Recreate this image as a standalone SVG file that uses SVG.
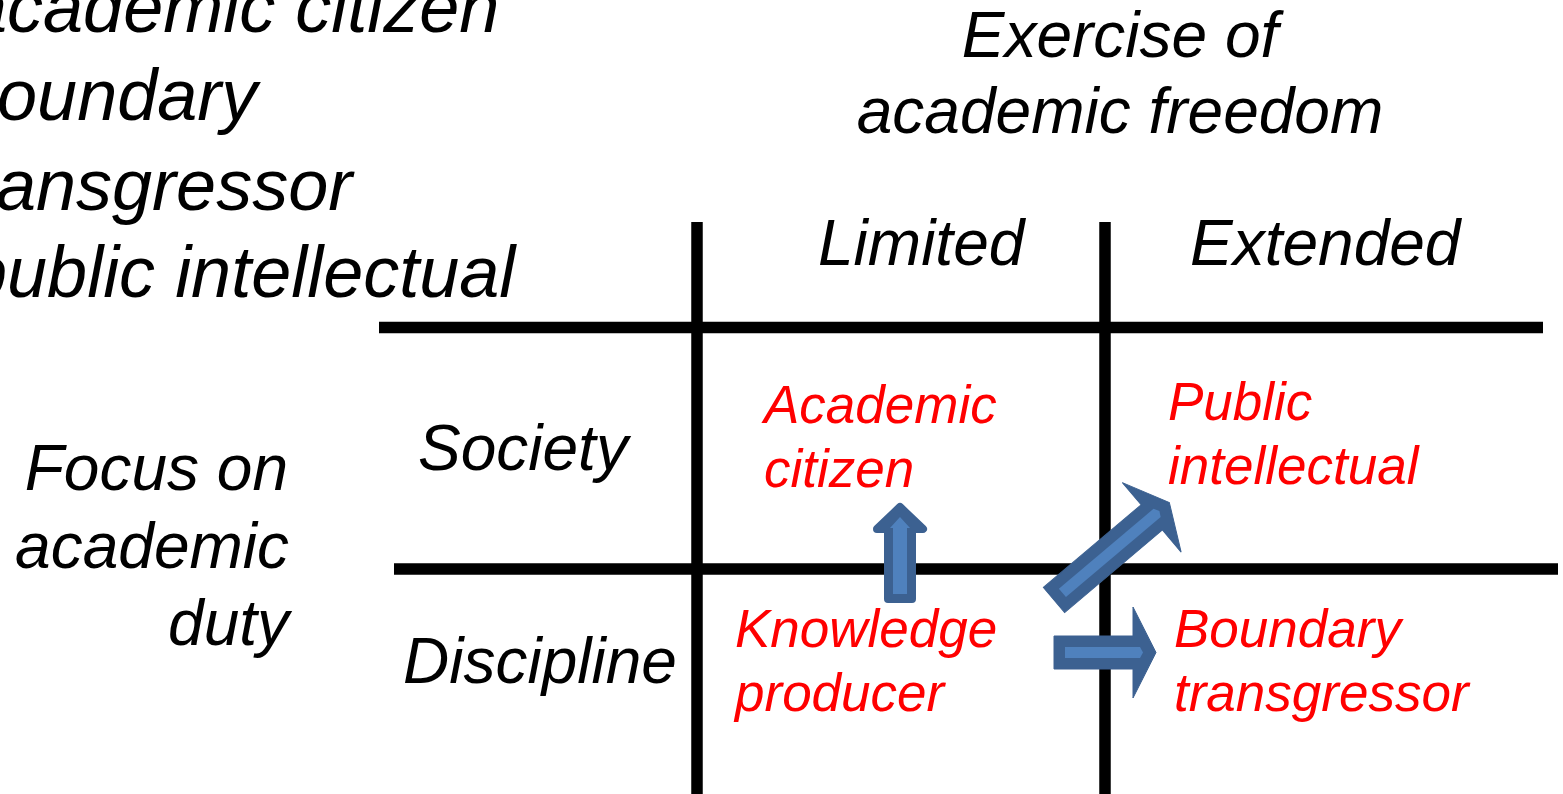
<svg xmlns="http://www.w3.org/2000/svg" width="1563" height="794" viewBox="0 0 1563 794">
<style>
text{font-family:"Liberation Sans",Arial,sans-serif;font-style:italic}
.big{font-size:72px;fill:#000}
.lbl{font-size:64px;fill:#000}
.red{font-size:53px;fill:#FF0000}
.grid{stroke:#000;stroke-width:11.5;fill:none}
.adark{fill:#3C6191;stroke:#3C6191}
.alight{fill:#4F81BD}
</style>
<rect width="1563" height="794" fill="#fff"/>
<g id="overflow-list">
<text class="big" x="-33" y="32">academic citizen</text>
<text class="big" x="-43" y="120">boundary</text>
<text class="big" x="-48" y="210">transgressor</text>
<text class="big" x="-33" y="297">public intellectual</text>
</g>
<g id="grid">
<line class="grid" x1="379" y1="327.5" x2="1543" y2="327.5"/>
<line class="grid" x1="394" y1="569" x2="1558" y2="569"/>
<line class="grid" x1="697" y1="222" x2="697" y2="794"/>
<line class="grid" x1="1105" y1="222" x2="1105" y2="794"/>
</g>
<g id="title-x">
<text class="lbl" x="1120" y="57" text-anchor="middle">Exercise of</text>
<text class="lbl" x="1120" y="133" text-anchor="middle">academic freedom</text>
</g>
<g id="title-y">
<text class="lbl" x="288" y="490" text-anchor="end">Focus on</text>
<text class="lbl" x="289" y="568" text-anchor="end">academic</text>
<text class="lbl" x="289" y="645" text-anchor="end">duty</text>
</g>
<g id="col-limited"><text class="lbl" x="818" y="265">Limited</text></g>
<g id="col-extended"><text class="lbl" x="1190" y="265">Extended</text></g>
<g id="row-society"><text class="lbl" x="418" y="470">Society</text></g>
<g id="row-discipline"><text class="lbl" x="403" y="683">Discipline</text></g>
<g id="academic-citizen">
<text class="red" x="764" y="423">Academic</text>
<text class="red" x="764" y="487">citizen</text>
</g>
<g id="public-intellectual">
<text class="red" x="1168" y="420">Public</text>
<text class="red" x="1168" y="484">intellectual</text>
</g>
<g id="knowledge-producer">
<text class="red" x="735" y="647">Knowledge</text>
<text class="red" x="735" y="711">producer</text>
</g>
<g id="boundary-transgressor">
<text class="red" x="1174" y="647">Boundary</text>
<text class="red" x="1174" y="711">transgressor</text>
</g>
<g id="connectors">
<g id="arrow-up">
<path class="adark" stroke-width="8" stroke-linejoin="round" d="M888,599 L888,529 L877,529 L900,507 L923,529 L912,529 L912,599 Z"/>
<path class="alight" d="M893,594 L893,528 L890,528 L900,517 L910,528 L907,528 L907,594 Z"/>
</g>
<g id="arrow-right" transform="translate(1054,652.5)">
<path class="adark" stroke="none" d="M0,-16.5 L79,-16.5 L79,-45.5 L102,0 L79,45.5 L79,16.5 L0,16.5 Z"/>
<path class="alight" d="M11,-5.5 L86,-5.5 L89,0 L86,5.5 L11,5.5 Z"/>
</g>
<g id="arrow-diag" transform="translate(1054,600) rotate(-40.2)">
<path class="adark" stroke="none" d="M0,-16.5 L128,-16.5 L128,-45.5 L151,0 L128,45.5 L128,16.5 L0,16.5 Z"/>
<path class="alight" d="M11,-5.5 L135,-5.5 L138,0 L135,5.5 L11,5.5 Z"/>
</g>
</g>
</svg>
